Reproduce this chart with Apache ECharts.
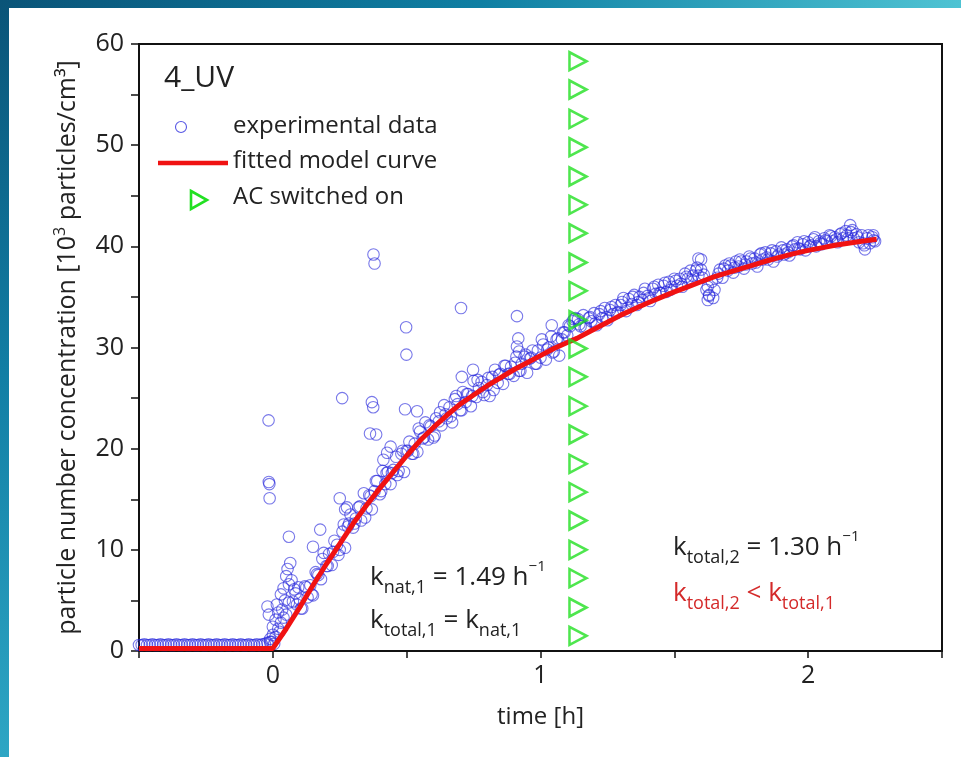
<!DOCTYPE html>
<html><head><meta charset="utf-8">
<script src="https://cdn.jsdelivr.net/npm/echarts@6/dist/echarts.min.js"></script>
<style>html,body{margin:0;padding:0;background:#fff;}#chart{width:961px;height:757px;}</style>
</head><body><div id="chart"></div>
<script>
const FONT = "'Open Sans', 'Noto Sans', sans-serif";
const TXT = '#222222';

// ---- data ----
const xTickLabels = [0, 1, 2];
const baselineData = [[-0.50,0.6],[-0.49,0.6],[-0.48,0.65],[-0.47,0.6],[-0.46,0.6],[-0.45,0.65],[-0.44,0.6],[-0.43,0.6],[-0.42,0.65],[-0.41,0.6],
 [-0.40,0.6],[-0.39,0.65],[-0.38,0.6],[-0.37,0.6],[-0.36,0.65],[-0.35,0.6],[-0.34,0.6],[-0.33,0.65],[-0.32,0.6],[-0.31,0.6],
 [-0.30,0.65],[-0.29,0.6],[-0.28,0.6],[-0.27,0.65],[-0.26,0.6],[-0.25,0.6],[-0.24,0.65],[-0.23,0.6],[-0.22,0.6],[-0.21,0.65],
 [-0.20,0.6],[-0.19,0.6],[-0.18,0.65],[-0.17,0.6],[-0.16,0.6],[-0.15,0.65],[-0.14,0.6],[-0.13,0.6],[-0.12,0.65],[-0.11,0.6],
 [-0.10,0.6],[-0.09,0.65],[-0.08,0.6],[-0.07,0.6],[-0.06,0.65],[-0.05,0.6],[-0.04,0.65],[-0.03,0.7],[-0.02,0.8],[-0.01,0.9]];
const earlyData = [[-0.01,1.2],[-0.005,0.9],[0.0,1.6],[0.0,2.4],[0.005,0.7],[0.01,3.1],[0.01,1.4],[0.015,4.6],[-0.02,4.4],[-0.015,3.6],
 [0.02,2.2],[0.02,3.8],[0.025,1.9],[0.03,5.6],[0.03,2.8],[0.035,4.1],[0.04,3.3],[0.04,6.2],[0.045,5.0],[0.05,7.4],
 [0.05,3.6],[0.055,8.1],[0.06,4.8],[0.06,6.6],[0.065,8.7],[0.07,7.0],[0.075,4.9],[0.08,6.1],[0.085,5.7],[0.09,4.6],[0.095,6.3]];
const riseData = [[0.10,5.1],[0.11,4.2],[0.12,6.4],[0.13,5.3],[0.14,6.5],[0.15,5.5],[0.16,7.8],[0.17,7.5],[0.18,7.1],[0.19,9.7],
 [0.20,8.4],[0.21,9.6],[0.22,8.5],[0.23,10.9],[0.24,10.5],[0.25,10.0],[0.26,11.8],[0.27,10.2],[0.28,12.3],[0.29,13.5],
 [0.30,12.2],[0.31,13.1],[0.32,14.2],[0.33,12.9],[0.34,15.6],[0.35,14.1],[0.36,15.4],[0.37,14.0],[0.38,15.8],[0.39,16.8],
 [0.40,15.5],[0.41,17.8],[0.42,16.5],[0.43,17.7],[0.44,16.5],[0.45,17.9],[0.46,19.2],[0.47,17.8],[0.48,19.5],[0.49,17.7],
 [0.50,19.8],[0.51,20.7],[0.52,19.5],[0.53,20.5],[0.54,19.7],[0.55,21.7],[0.56,21.0],[0.57,22.6],[0.58,20.9],[0.59,22.2],
 [0.60,21.1],[0.61,23.0],[0.62,22.7],[0.63,22.3],[0.64,24.3],[0.65,23.0],[0.66,24.1],[0.67,22.6],[0.68,24.9],[0.69,24.4],
 [0.70,23.8],[0.71,25.6],[0.72,24.6],[0.73,25.4],[0.74,24.2],[0.75,26.7],[0.76,25.1],[0.77,26.0],[0.78,26.6],[0.79,25.3],
 [0.80,26.3],[0.81,25.2],[0.82,27.1],[0.83,27.8],[0.84,26.5],[0.85,27.4],[0.86,26.4],[0.87,28.2],[0.88,27.4],[0.89,28.1],
 [0.90,27.2],[0.91,29.1],[0.92,27.7],[0.93,28.4],[0.94,29.1],[0.95,27.5],[0.96,28.9],[0.97,29.7],[0.98,28.4],[0.99,29.7],
 [1.00,29.0],[1.01,30.3],[1.02,28.8],[1.03,30.0],[1.04,31.1],[1.05,29.6],[1.06,30.8],[1.07,29.2],[1.08,30.8],[1.09,31.5],
 [1.10,31.2],[1.11,32.1],[1.12,32.6],[1.13,32.9]];
const riseData2 = [[0.105,4.2],[0.125,6.3],[0.145,5.6],[0.165,7.6],[0.185,9.1],[0.205,8.4],[0.225,9.8],[0.245,9.5],[0.265,12.5],[0.285,12.6],
 [0.305,12.6],[0.325,14.3],[0.345,13.2],[0.365,15.3],[0.385,16.8],[0.405,15.8],[0.425,17.6],[0.445,17.6],[0.465,17.4],[0.485,19.8],
 [0.505,19.8],[0.525,19.5],[0.545,22.0],[0.565,21.1],[0.585,22.3],[0.605,21.3],[0.625,23.6],[0.645,23.4],[0.665,23.2],[0.685,25.2],
 [0.705,23.8],[0.725,25.4],[0.745,25.2],[0.765,26.8],[0.785,25.6],[0.805,27.0],[0.825,25.8],[0.845,27.3],[0.865,28.2],[0.885,27.4],
 [0.905,28.5],[0.925,27.7],[0.945,29.3],[0.965,29.0],[0.985,28.4],[1.005,30.8],[1.025,29.8],[1.045,29.5],[1.065,30.9],[1.085,31.5],
 [1.105,32.2],[1.125,32.8]];
const lateData = [[1.14,32.8],[1.15,32.1],[1.16,33.2],[1.17,32.0],[1.18,32.9],[1.19,32.6],[1.20,33.4],[1.21,32.2],[1.22,33.3],[1.23,32.9],
 [1.24,33.9],[1.25,32.7],[1.26,33.7],[1.27,33.3],[1.28,34.2],[1.29,33.5],[1.30,34.2],[1.31,34.9],[1.32,33.6],[1.33,34.8],
 [1.34,34.3],[1.35,35.2],[1.36,34.2],[1.37,35.0],[1.38,34.7],[1.39,35.8],[1.40,35.1],[1.41,34.6],[1.42,35.8],[1.43,35.3],
 [1.44,36.2],[1.45,35.4],[1.46,36.1],[1.47,35.5],[1.48,36.5],[1.49,36.0],[1.50,36.8],[1.51,36.1],[1.52,36.8],[1.53,36.0],
 [1.54,37.3],[1.55,36.8],[1.56,37.6],[1.57,37.1],[1.58,37.6],[1.59,37.1],[1.60,37.7],[1.61,37.2],[1.62,35.7],[1.63,35.2],
 [1.64,36.5],[1.65,35.7],[1.66,36.9],[1.67,37.7],[1.68,36.9],[1.69,38.1],[1.70,37.6],[1.71,38.1],[1.72,37.4],[1.73,38.5],
 [1.74,38.0],[1.75,38.5],[1.76,37.8],[1.77,38.5],[1.78,39.0],[1.79,38.3],[1.80,38.8],[1.81,38.0],[1.82,39.2],[1.83,38.7],
 [1.84,39.4],[1.85,38.7],[1.86,39.3],[1.87,38.5],[1.88,39.5],[1.89,39.2],[1.90,39.9],[1.91,39.2],[1.92,39.7],[1.93,39.1],
 [1.94,40.0],[1.95,39.7],[1.96,40.4],[1.97,39.7],[1.98,40.2],[1.99,39.6],[2.00,40.4],[2.01,40.1],[2.02,40.7],[2.03,40.0],
 [2.04,40.5],[2.05,40.2],[2.06,40.8],[2.07,40.5],[2.08,41.1],[2.09,40.5],[2.10,40.9],[2.11,40.4],[2.12,41.2],[2.13,40.8],
 [2.14,41.5],[2.15,40.8],[2.16,41.4],[2.17,40.8],[2.18,41.2],[2.19,40.4],[2.20,41.1],[2.21,40.1],[2.22,40.8],[2.23,40.3],
 [2.24,40.9],[2.25,40.5]];
const lateData2 = [[1.145,32.3],[1.165,31.9],[1.185,33.0],[1.205,32.4],[1.225,33.6],[1.245,33.0],[1.265,34.0],[1.285,33.4],[1.305,34.5],[1.325,33.9],
 [1.345,35.0],[1.365,34.5],[1.385,35.4],[1.405,34.9],[1.425,36.0],[1.445,35.4],[1.465,36.4],[1.485,35.7],[1.505,36.6],[1.525,36.3],
 [1.545,37.0],[1.565,36.7],[1.585,37.9],[1.605,36.9],[1.625,36.0],[1.645,34.9],[1.665,37.3],[1.685,37.8],[1.705,38.3],[1.725,37.9],
 [1.745,38.7],[1.765,38.2],[1.785,38.8],[1.805,38.4],[1.825,39.3],[1.845,38.9],[1.865,39.6],[1.885,39.0],[1.905,39.6],[1.925,39.4],
 [1.945,40.1],[1.965,39.8],[1.985,40.5],[2.005,40.0],[2.025,40.9],[2.045,40.3],[2.065,40.6],[2.085,41.0],[2.105,40.7],[2.125,41.3],
 [2.145,41.1],[2.165,41.6],[2.185,40.9],[2.205,40.3],[2.225,41.1],[2.245,40.6]];
const outlierData = [[-0.016,22.8],[-0.015,16.7],[-0.013,16.5],[-0.012,15.1],[0.06,11.3],[0.15,10.3],[0.177,12.0],[0.25,15.1],[0.259,25.0],[0.27,14.0],
 [0.277,14.2],[0.363,21.5],[0.37,24.6],[0.375,24.1],[0.376,39.2],[0.38,38.3],[0.386,21.4],[0.413,18.9],[0.427,19.6],[0.44,20.2],
 [0.494,23.9],[0.498,32.0],[0.499,29.3],[0.539,23.7],[0.703,33.9],[0.706,27.1],[0.748,27.8],[0.912,33.1],[0.917,30.9],[0.912,30.1],
 [0.92,29.6],[1.042,32.2],[1.60,38.7],[1.59,38.8],[1.625,34.7],[1.63,35.1],[2.157,42.1],[2.212,39.7],[2.243,41.1]];
const curveTimes = [-0.5, 0, 0.05, 0.1, 0.15, 0.2, 0.25, 0.3, 0.35, 0.4, 0.45, 0.5, 0.55, 0.6, 0.65, 0.7, 0.75, 0.8, 0.85, 0.9, 0.95, 1.0, 1.05, 1.1, 1.136, 1.2, 1.25, 1.3, 1.35, 1.4, 1.45, 1.5, 1.55, 1.6, 1.65, 1.7, 1.75, 1.8, 1.85, 1.9, 1.95, 2.0, 2.05, 2.1, 2.15, 2.2, 2.256];
const curveValues = [0.25, 0.25, 2.2, 4.3, 6.5, 8.6, 10.6, 12.6, 14.4, 16.1, 17.7, 19.3, 20.8, 22.1, 23.3, 24.4, 25.3, 26.2, 27.0, 27.8, 28.5, 29.2, 29.9, 30.5, 30.9, 31.8, 32.5, 33.2, 33.8, 34.4, 34.95, 35.5, 36.0, 36.5, 37.0, 37.4, 37.8, 38.2, 38.6, 38.95, 39.3, 39.6, 39.85, 40.1, 40.3, 40.5, 40.7];
const acTime = 1.14;
const acMarkerValues = [1.5, 4.3, 7.2, 10.0, 12.9, 15.7, 18.5, 21.4, 24.2, 27.1, 29.9, 32.7, 35.6, 38.4, 41.3, 44.1, 46.9, 49.8, 52.6, 55.5, 58.3];

// ---- build ----
const expData = baselineData.concat(earlyData, riseData, riseData2, lateData, lateData2, outlierData);
const curveData = curveTimes.map((t, i) => [t, curveValues[i]]);
const acData = acMarkerValues.map(v => [acTime, v]);

const BLUE = 'rgba(40,40,220,0.78)';
const RED = '#f01212';
const GREEN = '#22e022';
const KRED = '#d42a2a';

function kRich(color) {
  return {
    k: {fontSize: 26, fontFamily: FONT, fill: color, lineHeight: 38, verticalAlign: 'middle'},
    b: {fontSize: 18, fontFamily: FONT, fill: color, lineHeight: 18, verticalAlign: 'bottom'},
    p: {fontSize: 15, fontFamily: FONT, fill: color, lineHeight: 15, verticalAlign: 'top'}
  };
}

const chart = echarts.init(document.getElementById('chart'), null, {renderer: 'canvas'});
chart.setOption({
  backgroundColor: '#ffffff',
  animation: false,
  textStyle: {fontFamily: FONT},
  grid: {left: 139, right: 19, top: 44, bottom: 106, show: true, borderColor: '#111', borderWidth: 2, backgroundColor: 'transparent'},
  xAxis: {
    type: 'value', min: -0.5, max: 2.5, interval: 0.5,
    axisLine: {show: true, onZero: false, lineStyle: {color: '#111', width: 2}},
    axisTick: {show: true, inside: false, length: 7, lineStyle: {color: '#111', width: 1.5}},
    splitLine: {show: false},
    axisLabel: {margin: 12, color: TXT, fontSize: 25, fontFamily: FONT,
      formatter: v => xTickLabels.indexOf(v) >= 0 ? String(v) : ''},
    name: 'time [h]', nameLocation: 'middle', nameGap: 54,
    nameTextStyle: {color: TXT, fontSize: 24, fontFamily: FONT}
  },
  yAxis: {
    type: 'value', min: 0, max: 60, interval: 10,
    axisLine: {show: true, onZero: false, lineStyle: {color: '#111', width: 2}},
    axisTick: {show: true, inside: false, length: 8, lineStyle: {color: '#111', width: 1.5}},
    minorTick: {show: true, splitNumber: 2, length: 8, lineStyle: {color: '#111', width: 1.5}},
    splitLine: {show: false},
    axisLabel: {margin: 15, color: TXT, fontSize: 25, fontFamily: FONT},
    name: '{a|particle number concentration [10}{s|3}{a| particles/cm³]}',
    nameLocation: 'middle', nameGap: 55, nameRotate: 90,
    nameTextStyle: {color: TXT, fontFamily: FONT,
      rich: {a: {fontSize: 25, color: TXT, fontFamily: FONT, lineHeight: 32, verticalAlign: 'middle'},
             s: {fontSize: 16, color: TXT, fontFamily: FONT, lineHeight: 16, verticalAlign: 'top'}}}
  },
  series: [
    {name: 'experimental data', type: 'scatter', data: expData, symbol: 'circle', symbolSize: 11.5,
     itemStyle: {color: 'rgba(0,0,0,0)', borderColor: BLUE, borderWidth: 1.1}, silent: true, z: 2},
    {name: 'fitted model curve', type: 'line', data: curveData, showSymbol: false, smooth: false,
     lineStyle: {color: RED, width: 5}, silent: true, z: 3},
    {name: 'AC switched on', type: 'scatter', data: acData, symbol: 'triangle', symbolRotate: -90, symbolSize: [18, 17],
     itemStyle: {color: 'rgba(0,0,0,0)', borderColor: GREEN, borderWidth: 2.6}, silent: true, z: 4}
  ],
  graphic: [
    {type: 'rect', left: 0, top: 0, shape: {width: 961, height: 8}, silent: true,
     style: {fill: new echarts.graphic.LinearGradient(0, 0, 1, 0, [{offset: 0, color: '#0a5478'}, {offset: 0.5, color: '#0f7fa3'}, {offset: 1, color: '#4ec3d3'}])}},
    {type: 'rect', left: 0, top: 0, shape: {width: 9, height: 757}, silent: true,
     style: {fill: new echarts.graphic.LinearGradient(0, 0, 0, 1, [{offset: 0, color: '#0a5478'}, {offset: 0.5, color: '#127fa5'}, {offset: 1, color: '#2ea6c4'}])}},
    {type: 'text', left: 164, top: 63, silent: true, style: {text: '4_UV', fontSize: 30, fontFamily: FONT, fill: TXT}},
    {type: 'circle', shape: {cx: 181, cy: 127, r: 5.5}, silent: true, style: {fill: 'none', stroke: BLUE, lineWidth: 1.1}},
    {type: 'text', left: 233, top: 114, silent: true, style: {text: 'experimental data', fontSize: 24, fontFamily: FONT, fill: TXT}},
    {type: 'line', shape: {x1: 158, y1: 163, x2: 228, y2: 163}, silent: true, style: {stroke: RED, lineWidth: 4.5}},
    {type: 'text', left: 233, top: 149, silent: true, style: {text: 'fitted model curve', fontSize: 24, fontFamily: FONT, fill: TXT}},
    {type: 'polygon', shape: {points: [[191, 191], [207, 200], [191, 209]]}, silent: true, style: {fill: 'none', stroke: GREEN, lineWidth: 2.6}},
    {type: 'text', left: 233, top: 185, silent: true, style: {text: 'AC switched on', fontSize: 24, fontFamily: FONT, fill: TXT}},
    {type: 'text', x: 370, y: 578, silent: true, style: {
      text: '{k|k}{b|nat,1}{k| = 1.49 h}{p|−1}', verticalAlign: 'middle', fill: TXT, rich: kRich(TXT)}},
    {type: 'text', x: 370, y: 621, silent: true, style: {
      text: '{k|k}{b|total,1}{k| = k}{b|nat,1}', verticalAlign: 'middle', fill: TXT, rich: kRich(TXT)}},
    {type: 'text', x: 673, y: 548, silent: true, style: {
      text: '{k|k}{b|total,2}{k| = 1.30 h}{p|−1}', verticalAlign: 'middle', fill: TXT, rich: kRich(TXT)}},
    {type: 'text', x: 673, y: 594, silent: true, style: {
      text: '{k|k}{b|total,2}{k| < k}{b|total,1}', verticalAlign: 'middle', fill: KRED, rich: kRich(KRED)}}
  ]
});
</script>
</body></html>
